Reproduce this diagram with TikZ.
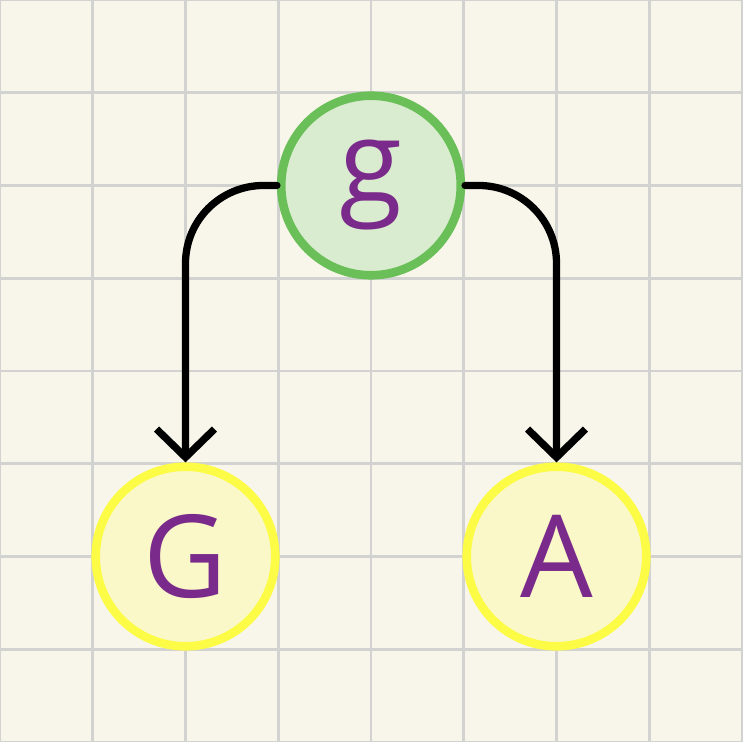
\documentclass[tikz,border=0pt]{standalone}
\usepackage{fontspec}
\setmainfont{Open Sans}
\usepackage{tikz}
\usetikzlibrary{arrows.meta}
\definecolor{paper}{HTML}{F8F6EA}
\definecolor{gridgray}{HTML}{D2D2D0}
\definecolor{leafline}{HTML}{6BBF59}
\definecolor{leaffill}{HTML}{D9ECCF}
\definecolor{sunline}{HTML}{FCFC46}
\definecolor{sunfill}{HTML}{FAF8C8}
\definecolor{ink}{HTML}{7A2A8A}

\begin{document}
\begin{tikzpicture}[x=1.25cm, y=1.25cm, font=\fontsize{44}{52}\selectfont,
  letter/.style={circle, inner sep=0pt, minimum size=2.42cm, line width=3.3pt, text=ink},
  root/.style={letter, draw=leafline, fill=leaffill},
  leaf/.style={letter, draw=sunline, fill=sunfill},
  link/.style={line width=2.8pt, line cap=round, rounded corners=1.05cm,
    -{Straight Barb[length=0.38cm, width=0.78cm, line width=2.8pt]}}]
  \useasboundingbox (0,0) rectangle (8,8);
  \fill[paper] (0,0) rectangle (8,8);
  \draw[gridgray, line width=1.1pt, step=1.25cm] (0,0) grid (8,8);
  \node[root] (g) at (4,6) {g};
  \node[leaf] (G) at (2,2) {G};
  \node[leaf] (A) at (6,2) {A};
  \draw[link] (g.west) -| (G.north);
  \draw[link] (g.east) -| (A.north);
\end{tikzpicture}
\end{document}
